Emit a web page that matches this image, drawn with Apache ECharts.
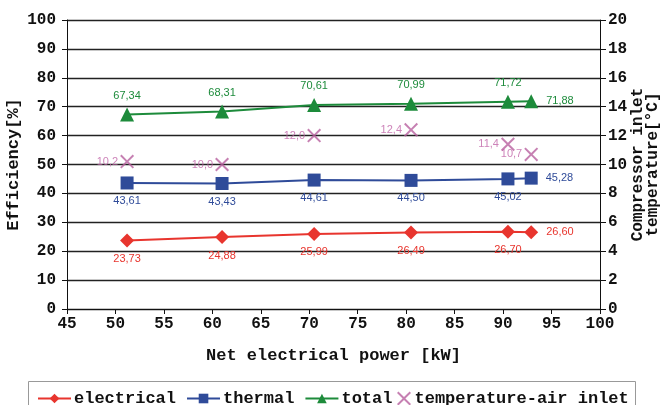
<!DOCTYPE html>
<html><head><meta charset="utf-8">
<script src="https://cdn.jsdelivr.net/npm/echarts@6/dist/echarts.min.js"></script>
<style>html,body{margin:0;padding:0;background:#fff}#c{width:666px;height:405px}</style>
</head><body><div id="c"></div>
<script>
var power = [51.2, 61.0, 70.5, 80.5, 90.5, 92.9];
var electrical = [23.73, 24.88, 25.99, 26.49, 26.70, 26.60];
var thermal = [43.61, 43.43, 44.61, 44.50, 45.02, 45.28];
var total = [67.34, 68.31, 70.61, 70.99, 71.72, 71.88];
var tempAir = [10.2, 10.0, 12.0, 12.4, 11.4, 10.7];

function pairs(v){ return power.map(function(p,i){ return [p, v[i]]; }); }
function fmt(d){ return function(p){ return p.value[1].toFixed(d).replace('.', ','); }; }
function lastRight(arr){
  return pairs(arr).map(function(pt,i){
    if (i === arr.length-1) return {value: pt, label:{position:'right', distance:8}};
    return {value: pt};
  });
}
var xMark = 'path://M0,1L1,0L5,4L9,0L10,1L6,5L10,9L9,10L5,6L1,10L0,9L4,5Z';
var tickFont = {fontFamily:'Liberation Mono', fontWeight:'bold', fontSize:16, color:'#111'};
var nameFont = {fontFamily:'Liberation Mono', fontWeight:'bold', fontSize:17, color:'#111'};
var lblFont = {fontFamily:'Liberation Sans', fontSize:11};
var legText = {fontFamily:'Liberation Mono', fontWeight:'bold', fontSize:17, color:'#111', padding:[0,0,0,-2]};

var chart = echarts.init(document.getElementById('c'));
chart.setOption({
  animation:false,
  grid:{left:67, right:66, top:20, bottom:96, outerBoundsMode:'none'},
  graphic:[{type:'rect', shape:{x:28.5, y:381.5, width:607, height:40}, style:{fill:'none', stroke:'#999', lineWidth:1}}],
  legend:[{
    left:37, top:390, padding:0,
    itemGap:10, itemWidth:33, itemHeight:12,
    textStyle:legText,
    data:['electrical','thermal','total']
  },{
    left:397, top:390, padding:0,
    itemWidth:15, itemHeight:14,
    textStyle:legText,
    data:['temperature-air inlet']
  }],
  xAxis:{
    type:'value', min:45, max:100, interval:5,
    name:'Net electrical power [kW]', nameLocation:'middle', nameGap:38, nameMoveOverlap:false, nameTextStyle:nameFont,
    axisLine:{lineStyle:{color:'#111', width:1}},
    axisTick:{show:true, length:5, lineStyle:{color:'#111'}},
    axisLabel:Object.assign({margin:7}, tickFont),
    splitLine:{show:false}
  },
  yAxis:[{
    type:'value', min:0, max:100, interval:10,
    name:'Efficiency[%]', nameLocation:'middle', nameGap:45, nameMoveOverlap:false, nameTextStyle:nameFont,
    axisLine:{show:true, lineStyle:{color:'#111'}},
    axisTick:{show:true, length:5, lineStyle:{color:'#111'}},
    axisLabel:Object.assign({margin:11}, tickFont),
    splitLine:{show:true, lineStyle:{color:'#222', width:1.3}}
  },{
    type:'value', min:0, max:20, interval:2, position:'right',
    name:'Compressor inlet\ntemperature[\u00B0C]', nameLocation:'middle', nameGap:30, nameRotate:90, nameMoveOverlap:false,
    nameTextStyle:Object.assign({}, nameFont, {fontSize:16, lineHeight:15}),
    axisLine:{show:true, lineStyle:{color:'#111'}},
    axisTick:{show:true, length:6, lineStyle:{color:'#111'}},
    axisLabel:Object.assign({margin:8}, tickFont),
    splitLine:{show:false}
  }],
  series:[{
    name:'electrical', type:'line', data:lastRight(electrical),
    symbol:'diamond', symbolSize:14, color:'#e8352e', lineStyle:{width:2},
    label:Object.assign({show:true, position:'bottom', distance:6, color:'#e8352e', formatter:fmt(2)}, lblFont)
  },{
    name:'thermal', type:'line', data:lastRight(thermal),
    symbol:'rect', symbolSize:13, color:'#2f4b99', lineStyle:{width:2},
    label:Object.assign({show:true, position:'bottom', distance:6, color:'#2f4b99', formatter:fmt(2)}, lblFont)
  },{
    name:'total', type:'line', data:lastRight(total),
    symbol:'triangle', symbolSize:14, color:'#1d8b3b', lineStyle:{width:2},
    label:Object.assign({show:true, position:'top', distance:6, color:'#1d8b3b', formatter:fmt(2)}, lblFont)
  },{
    name:'temperature-air inlet', type:'scatter', yAxisIndex:1, data:pairs(tempAir),
    symbol:xMark, symbolSize:14, itemStyle:{color:'#b8609f'},
    label:Object.assign({show:true, position:'left', distance:2, color:'#c064a8', formatter:fmt(1)}, lblFont)
  }]
});
</script></body></html>
